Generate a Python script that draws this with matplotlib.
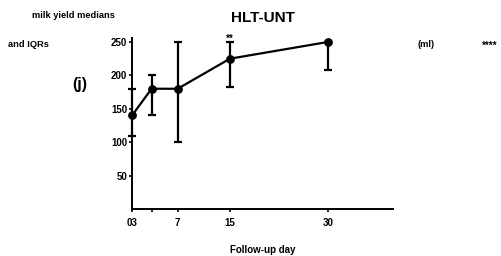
import matplotlib
matplotlib.use("Agg")
import matplotlib.pyplot as plt
import numpy as np

plt.rcParams['font.family'] = ['Liberation Sans', 'DejaVu Sans']

# 追跡日と乳量の中央値・IQR
days = [0, 3, 7, 15, 30]
medians = [140, 180, 180, 225, 250]
q1 = [110, 140, 100, 183, 208]
q3 = [180, 200, 250, 250, 250]

xticks = [0, 3, 7, 15, 30]
xticklabels = ["03", "", "7", "15", "30"]
yticks = [50, 100, 150, 200, 250]

fig = plt.figure(figsize=(5.01, 2.56), dpi=100)
ax = fig.add_axes([0.2635, 0.1836, 0.521, 0.668])

med = np.array(medians)
yerr = [med - np.array(q1), np.array(q3) - med]
ax.errorbar(days, medians, yerr=yerr, color="black", lw=1.6, elinewidth=1.6,
            capsize=2.6, capthick=1.6, marker="o", ms=5.3, clip_on=False, zorder=3)

ax.set_xlim(0, 40)
ax.set_ylim(0, 256)
ax.set_xticks(xticks)
ax.set_xticklabels(xticklabels)
ax.set_yticks(yticks)
for s in ["top", "right"]:
    ax.spines[s].set_visible(False)
for s in ["left", "bottom"]:
    ax.spines[s].set_linewidth(1.4)
ax.tick_params(axis="both", width=1.2, length=2.5, pad=1, labelsize=7)
ax.tick_params(axis="x", pad=4)
for lab in ax.get_xticklabels() + ax.get_yticklabels():
    lab.set_fontweight("bold")

ax.set_xlabel("Follow-up day", fontsize=7, fontweight="bold", labelpad=12)

fig.text(0.525, 0.93, "HLT-UNT", ha="center", va="center", fontsize=11, fontweight="bold")
fig.text(0.147, 0.94, "milk yield medians", ha="center", va="center", fontsize=6.7, fontweight="bold")
fig.text(0.056, 0.828, "and IQRs", ha="center", va="center", fontsize=6.7, fontweight="bold")
fig.text(0.85, 0.828, "(ml)", ha="center", va="center", fontsize=6.7, fontweight="bold")
fig.text(0.978, 0.822, "****", ha="center", va="center", fontsize=7, fontweight="bold")
fig.text(0.16, 0.67, "(j)", ha="center", va="center", fontsize=11.5, fontweight="bold")
ax.annotate("**", xy=(15, 250), xytext=(0, -1.5), textcoords="offset points",
            ha="center", va="bottom", fontsize=7, fontweight="bold")

plt.savefig("out.png", dpi=100)
